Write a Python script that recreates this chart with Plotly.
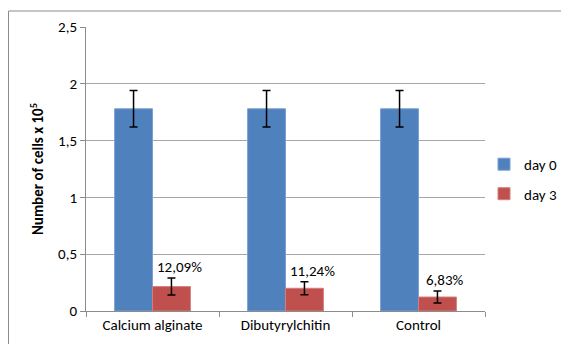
import plotly.graph_objects as go

categories = ["Calcium alginate", "Dibutyrylchitin", "Control"]
day0 = [1.78, 1.78, 1.78]
day0_err = [0.16, 0.16, 0.16]
day3 = [0.215, 0.20, 0.123]
day3_err = [0.075, 0.058, 0.053]
day3_labels = ["12,09%", "11,24%", "6,83%"]
y_ticks = [0, 0.5, 1, 1.5, 2, 2.5]

FONT = "Carlito, Lato, 'Open Sans', sans-serif"

# page body has an 8px margin, so the figure is drawn at (8, 8)
W, H = 561, 336
L, T, R, B = 78, 19, 84, 33
PW, PH = W - L - R, H - T - B

fig = go.Figure()
fig.add_trace(go.Bar(
    x=categories, y=day0, name="day 0", legendgroup="a",
    marker=dict(color="#4f81bd", line=dict(color="#7aa0d4", width=1)),
    error_y=dict(type="data", array=day0_err, color="black", thickness=1.5, width=4),
))
fig.add_trace(go.Bar(
    x=categories, y=day3, name="day 3", legendgroup="b",
    marker=dict(color="#c0504d", line=dict(color="#d27f7c", width=1)),
    error_y=dict(type="data", array=day3_err, color="black", thickness=1.5, width=4),
))

for i, (c, v, e, t) in enumerate(zip(categories, day3, day3_err, day3_labels)):
    fig.add_annotation(
        x=i + 0.2, y=v + e, xref="x", yref="y", text=t, showarrow=False,
        yanchor="bottom", yshift=0, font=dict(size=15, color="black", family=FONT),
    )

fig.update_layout(
    width=W, height=H,
    margin=dict(l=L, r=R, t=T, b=B, autoexpand=False),
    paper_bgcolor="white", plot_bgcolor="white",
    separators=", ",
    barmode="group", bargap=0.43, bargroupgap=0,
    font=dict(family=FONT, size=15, color="black"),
    legend=dict(x=(476 - L) / PW, y=0.465, yanchor="middle", xanchor="left",
                font=dict(size=15), tracegroupgap=7, itemwidth=30,
                bgcolor="rgba(0,0,0,0)"),
    showlegend=True,
    shapes=[dict(type="rect", xref="paper", yref="paper",
                 x0=(0.5 - L) / PW, x1=1.3, y0=-0.2, y1=(H - B - 3) / PH,
                 line=dict(color="#8c8c8c", width=1), layer="below")],
)
fig.update_xaxes(
    type="category", tickson="boundaries", ticks="outside", ticklen=5,
    tickcolor="#8c8c8c", showline=True, linecolor="#8c8c8c", linewidth=1,
    tickfont=dict(size=15), showgrid=False, automargin=False,
)
fig.update_yaxes(
    range=[0, 2.5], tickvals=y_ticks, ticks="outside", ticklen=5,
    tickcolor="#8c8c8c", showline=True, linecolor="#8c8c8c", linewidth=1,
    showgrid=True, gridcolor="#a6a6a6", gridwidth=1, zeroline=False,
    tickfont=dict(size=15), automargin=False,
    title=dict(text="<b>Number of cells x 10<sup>5</sup></b>", font=dict(size=15), standoff=10),
)

fig.write_html("out.html")
